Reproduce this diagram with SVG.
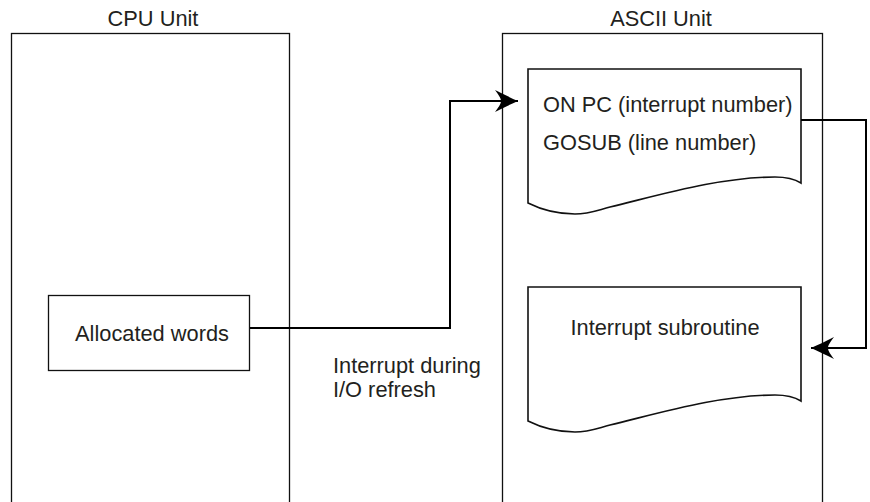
<svg xmlns="http://www.w3.org/2000/svg" width="870" height="502" viewBox="0 0 870 502">
<style>
text{font-family:"Liberation Sans",Arial,sans-serif;font-size:21.8px;fill:#231f20}
.box{fill:none;stroke:#111;stroke-width:1.3}
.doc{fill:#fff;stroke:#111;stroke-width:1.6}
.conn{fill:none;stroke:#000;stroke-width:2}
</style>
<defs>
<marker id="ah" markerUnits="userSpaceOnUse" markerWidth="26" markerHeight="26" refX="24" refY="12" orient="auto" viewBox="0 0 26 24">
<path d="M24,12 C17,9 9,5 1,1 C4,5 7,9 7,12 C7,15 4,19 1,23 C9,19 17,15 24,12 Z" fill="#000"/>
</marker>
<path id="docshape" d="M528,69 L801,69 L801,183 C793,178 785,177 775,177 C720,177 660,195 610,207 C595,211 588,214 575,214 C555,214 540,209 528,203 Z"/>
</defs>
<g id="cpu-unit">
<text x="153" y="26" text-anchor="middle">CPU Unit</text>
<rect class="box" x="11.5" y="33.5" width="278" height="480"/>
</g>
<g id="ascii-unit">
<text x="661" y="26" text-anchor="middle">ASCII Unit</text>
<rect class="box" x="502.5" y="33.5" width="320" height="480"/>
</g>
<g id="allocated-words">
<rect class="box" x="48.5" y="295.5" width="201" height="75"/>
<text x="152" y="341" text-anchor="middle">Allocated words</text>
</g>
<g id="on-pc-doc">
<use href="#docshape" class="doc"/>
<text x="543" y="112">ON PC (interrupt number)</text>
<text x="543" y="150">GOSUB (line number)</text>
</g>
<g id="interrupt-subroutine">
<use href="#docshape" class="doc" transform="translate(0,218)"/>
<text x="665" y="335" text-anchor="middle">Interrupt subroutine</text>
</g>
<g id="connectors">
<path class="conn" d="M250,328 L450,328 L450,101 L518,101" marker-end="url(#ah)"/>
<path class="conn" d="M801,120 L866,120 L866,348 L811,348" marker-end="url(#ah)"/>
<text x="333" y="373">Interrupt during</text>
<text x="333" y="397">I/O refresh</text>
</g>
</svg>
